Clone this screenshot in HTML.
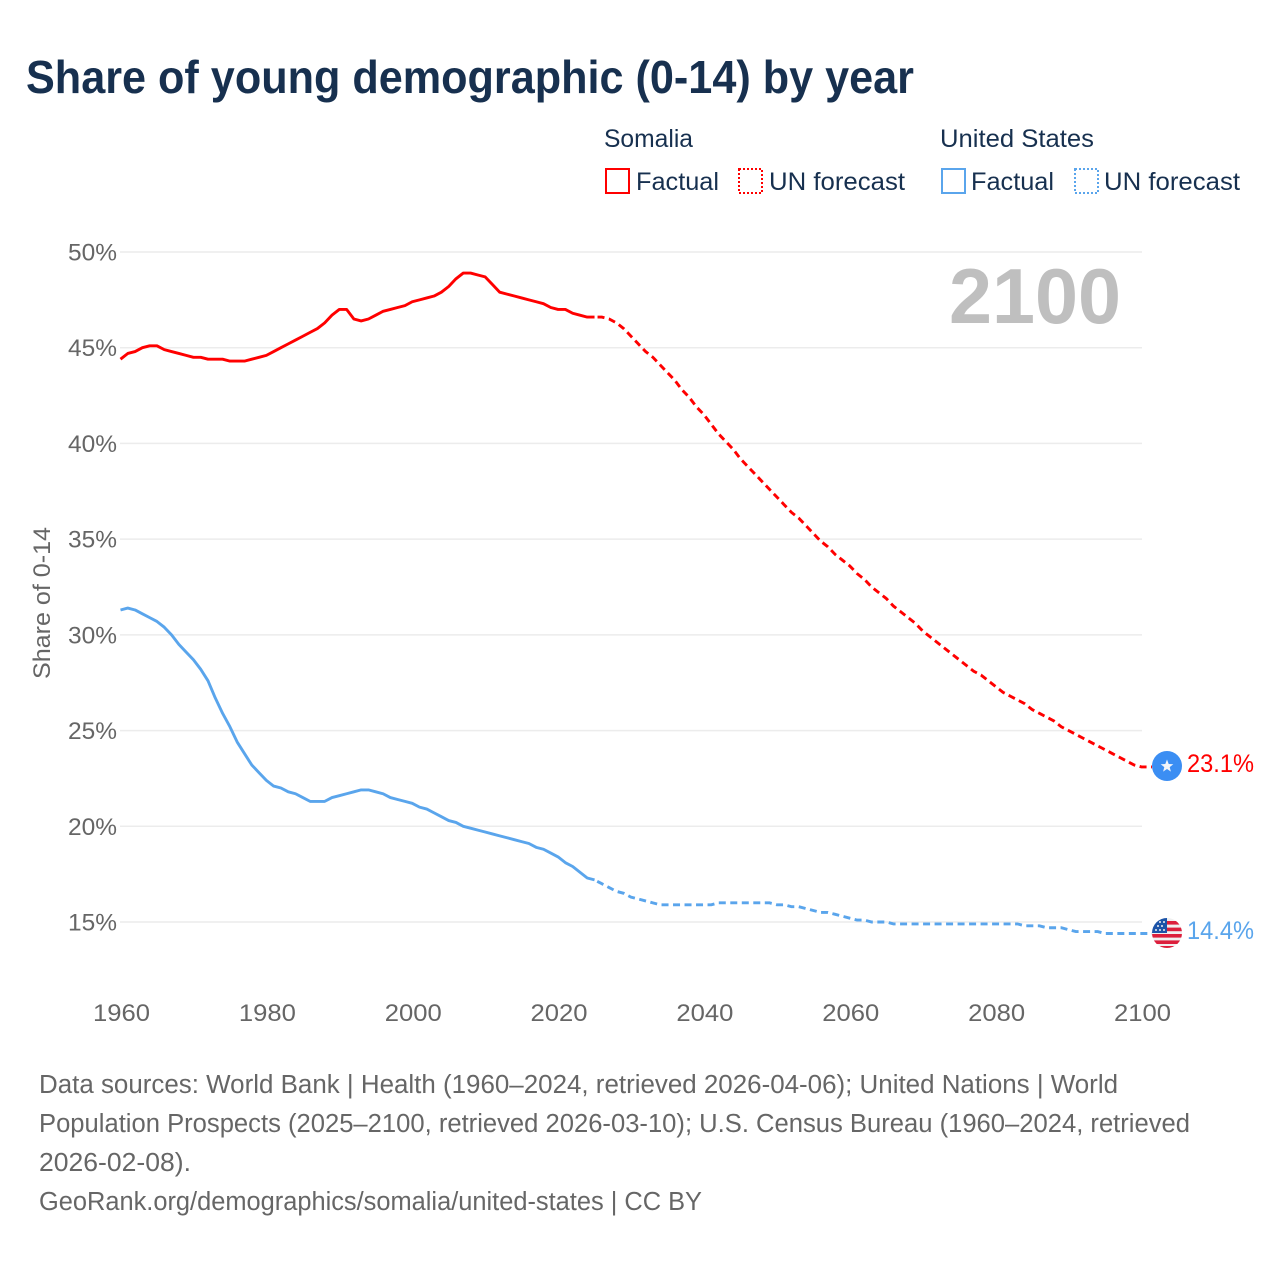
<!DOCTYPE html>
<html>
<head>
<meta charset="utf-8">
<title>Share of young demographic (0-14) by year</title>
<style>
html,body{margin:0;padding:0;background:#fff;width:1280px;height:1280px;overflow:hidden}
svg{display:block}
text{font-family:"Liberation Sans",sans-serif}
</style>
</head>
<body>
<svg id="chart" xmlns="http://www.w3.org/2000/svg" width="1280" height="1280" viewBox="0 0 1280 1280">
  <defs>
    <clipPath id="us-clip"><circle cx="1167" cy="933" r="15"/></clipPath>
  </defs>
  <text x="26" y="93" font-size="46" font-weight="700" fill="#17304f" textLength="888" lengthAdjust="spacingAndGlyphs">Share of young demographic (0-14) by year</text>

  <text x="604" y="147" font-size="25" fill="#17304f" textLength="89" lengthAdjust="spacingAndGlyphs">Somalia</text>
  <rect x="606" y="169" width="23" height="24" fill="none" stroke="#ff0000" stroke-width="2"/>
  <text x="636" y="190" font-size="25" fill="#17304f" textLength="83" lengthAdjust="spacingAndGlyphs">Factual</text>
  <rect x="739" y="169" width="23" height="24" fill="none" stroke="#ff0000" stroke-width="2" stroke-dasharray="2 2"/>
  <text x="769" y="190" font-size="25" fill="#17304f" textLength="136" lengthAdjust="spacingAndGlyphs">UN forecast</text>

  <text x="940" y="147" font-size="25" fill="#17304f" textLength="154" lengthAdjust="spacingAndGlyphs">United States</text>
  <rect x="942" y="169" width="23" height="24" fill="none" stroke="#5aa5ec" stroke-width="2"/>
  <text x="971" y="190" font-size="25" fill="#17304f" textLength="83" lengthAdjust="spacingAndGlyphs">Factual</text>
  <rect x="1075" y="169" width="23" height="24" fill="none" stroke="#5aa5ec" stroke-width="2" stroke-dasharray="2 2"/>
  <text x="1104" y="190" font-size="25" fill="#17304f" textLength="136" lengthAdjust="spacingAndGlyphs">UN forecast</text>

  <g id="grid"></g>
  <g id="yticks"></g>
  <g id="xticks"></g>

  <text transform="translate(50,603) rotate(-90)" text-anchor="middle" font-size="24" fill="#666666" textLength="152" lengthAdjust="spacingAndGlyphs">Share of 0-14</text>
  <text x="949" y="323" font-size="78" font-weight="700" fill="#bfbfbf" textLength="172" lengthAdjust="spacingAndGlyphs">2100</text>

  <g id="series"></g>

  <g>
    <circle cx="1167" cy="766" r="15" fill="#3b8ef3"/>
    <polygon points="1167,759.5 1168.7,764 1173.3,764.2 1169.7,767.1 1170.9,771.6 1167,769 1163.1,771.6 1164.3,767.1 1160.7,764.2 1165.3,764" fill="#f2f5fa"/>
  </g>
  <g clip-path="url(#us-clip)">
    <rect x="1152" y="918" width="30" height="30" fill="#f0f0f0"/>
    <rect x="1167" y="921" width="15" height="3.6" fill="#dc1f3c"/>
    <rect x="1167" y="927.6" width="15" height="3.6" fill="#dc1f3c"/>
    <rect x="1152" y="934" width="30" height="3.6" fill="#dc1f3c"/>
    <rect x="1152" y="940.4" width="30" height="3.6" fill="#dc1f3c"/>
    <rect x="1152" y="946" width="30" height="3" fill="#dc1f3c"/>
    <rect x="1152" y="918" width="15" height="15" fill="#1c54a8"/>
    <g fill="#f0f0f0">
      <circle cx="1156" cy="930" r="1"/><circle cx="1160" cy="930" r="1"/><circle cx="1164" cy="930" r="1"/>
      <circle cx="1158" cy="926" r="1"/><circle cx="1162" cy="926" r="1"/>
      <circle cx="1160" cy="922" r="1"/><circle cx="1164" cy="922" r="1"/>
    </g>
  </g>

  <text id="label-so" x="1187" y="772" font-size="25" fill="#ff0000" textLength="67" lengthAdjust="spacingAndGlyphs"></text>
  <text id="label-us" x="1187" y="939" font-size="25" fill="#5aa5ec" textLength="67" lengthAdjust="spacingAndGlyphs"></text>

  <g font-size="25.5" fill="#666666">
    <text x="39" y="1093" textLength="1079" lengthAdjust="spacingAndGlyphs">Data sources: World Bank | Health (1960–2024, retrieved 2026-04-06); United Nations | World</text>
    <text x="39" y="1132" textLength="1151" lengthAdjust="spacingAndGlyphs">Population Prospects (2025–2100, retrieved 2026-03-10); U.S. Census Bureau (1960–2024, retrieved</text>
    <text x="39" y="1171" textLength="152" lengthAdjust="spacingAndGlyphs">2026-02-08).</text>
    <text x="39" y="1210" textLength="663" lengthAdjust="spacingAndGlyphs">GeoRank.org/demographics/somalia/united-states | CC BY</text>
  </g>
</svg>
<script>
const startYear = 1960;
const forecastStartYear = 2025;
const xTickYears = [1960, 1980, 2000, 2020, 2040, 2060, 2080, 2100];
const yTickValues = [50, 45, 40, 35, 30, 25, 20, 15];
const somaliaValues = [
  44.4,44.7,44.8,45.0,45.1,45.1,44.9,44.8,44.7,44.6,
  44.5,44.5,44.4,44.4,44.4,44.3,44.3,44.3,44.4,44.5,
  44.6,44.8,45.0,45.2,45.4,45.6,45.8,46.0,46.3,46.7,
  47.0,47.0,46.5,46.4,46.5,46.7,46.9,47.0,47.1,47.2,
  47.4,47.5,47.6,47.7,47.9,48.2,48.6,48.9,48.9,48.8,
  48.7,48.3,47.9,47.8,47.7,47.6,47.5,47.4,47.3,47.1,
  47.0,47.0,46.8,46.7,46.6,46.6,
  46.6,46.5,46.3,46.0,45.6,45.2,44.8,44.5,44.1,43.7,
  43.3,42.8,42.4,41.9,41.5,41.0,40.5,40.1,39.7,39.2,
  38.8,38.4,38.0,37.6,37.2,36.8,36.4,36.1,35.7,35.3,
  34.9,34.6,34.2,33.9,33.6,33.2,32.9,32.5,32.2,31.9,
  31.5,31.2,30.9,30.6,30.2,29.9,29.6,29.3,29.0,28.7,
  28.4,28.1,27.9,27.6,27.3,27.0,26.8,26.6,26.4,26.1,
  25.9,25.7,25.5,25.2,25.0,24.8,24.6,24.4,24.2,24.0,
  23.8,23.6,23.4,23.2,23.1
];
const unitedStatesValues = [
  31.3,31.4,31.3,31.1,30.9,30.7,30.4,30.0,29.5,29.1,
  28.7,28.2,27.6,26.7,25.9,25.2,24.4,23.8,23.2,22.8,
  22.4,22.1,22.0,21.8,21.7,21.5,21.3,21.3,21.3,21.5,
  21.6,21.7,21.8,21.9,21.9,21.8,21.7,21.5,21.4,21.3,
  21.2,21.0,20.9,20.7,20.5,20.3,20.2,20.0,19.9,19.8,
  19.7,19.6,19.5,19.4,19.3,19.2,19.1,18.9,18.8,18.6,
  18.4,18.1,17.9,17.6,17.3,17.2,
  17.0,16.8,16.6,16.5,16.3,16.2,16.1,16.0,15.9,15.9,
  15.9,15.9,15.9,15.9,15.9,15.9,16.0,16.0,16.0,16.0,
  16.0,16.0,16.0,16.0,15.9,15.9,15.8,15.8,15.7,15.6,
  15.5,15.5,15.4,15.3,15.2,15.1,15.1,15.0,15.0,15.0,
  14.9,14.9,14.9,14.9,14.9,14.9,14.9,14.9,14.9,14.9,
  14.9,14.9,14.9,14.9,14.9,14.9,14.9,14.9,14.8,14.8,
  14.8,14.7,14.7,14.7,14.6,14.5,14.5,14.5,14.5,14.4,
  14.4,14.4,14.4,14.4,14.4
];

const NS = 'http://www.w3.org/2000/svg';
function xScale(year) { return 120.5 + (year - 1960) * (1021 / 140); }
function yScale(value) { return 922 - (value - 15) * (670 / 35); }

function make(tag, attrs, parent) {
  const el = document.createElementNS(NS, tag);
  for (const k in attrs) el.setAttribute(k, attrs[k]);
  parent.appendChild(el);
  return el;
}

const gridG = document.getElementById('grid');
const yG = document.getElementById('yticks');
yTickValues.forEach(function (v) {
  const line = make('line', { x1: 120, x2: 1142, y1: yScale(v), y2: yScale(v), stroke: '#ececec', 'stroke-width': 1.5 }, gridG);
  
  
  const t = make('text', { x: 117, y: yScale(v) + 8.5, 'text-anchor': 'end', 'font-size': 24, fill: '#666666', textLength: 49, lengthAdjust: 'spacingAndGlyphs' }, yG);
  t.textContent = v + '%';
  
  
});

const xG = document.getElementById('xticks');
xTickYears.forEach(function (yr) {
  const t = make('text', { x: xScale(yr) + 1, y: 1021, 'text-anchor': 'middle', 'font-size': 24, fill: '#666666', textLength: 57, lengthAdjust: 'spacingAndGlyphs' }, xG);
  t.textContent = String(yr);
  
  
});

function pathFor(values, fromYear, toYear) {
  let d = '';
  for (let yr = fromYear; yr <= toYear; yr++) {
    const v = values[yr - startYear];
    d += (d ? 'L' : 'M') + xScale(yr).toFixed(2) + ' ' + yScale(v).toFixed(2);
  }
  return d;
}

const seriesG = document.getElementById('series');
function drawSeries(values, color, key) {
  const lastYear = startYear + values.length - 1;
  const solid = make('path', { d: pathFor(values, startYear, forecastStartYear), fill: 'none', stroke: color, 'stroke-width': 2.9, 'stroke-linejoin': 'round' }, seriesG);
  
  
  const endV = values[values.length - 1];
  const dashD = pathFor(values, forecastStartYear, lastYear) + 'L1152 ' + yScale(endV).toFixed(2);
  const dashed = make('path', { d: dashD, fill: 'none', stroke: color, 'stroke-width': 2.9, 'stroke-dasharray': '7 4.5', 'stroke-dashoffset': 8.5 }, seriesG);
  
  
}
drawSeries(somaliaValues, '#ff0000', 'somalia');
drawSeries(unitedStatesValues, '#5aa5ec', 'united-states');

document.getElementById('label-so').textContent = somaliaValues[somaliaValues.length - 1].toFixed(1) + '%';
document.getElementById('label-us').textContent = unitedStatesValues[unitedStatesValues.length - 1].toFixed(1) + '%';
</script>
</body>
</html>
